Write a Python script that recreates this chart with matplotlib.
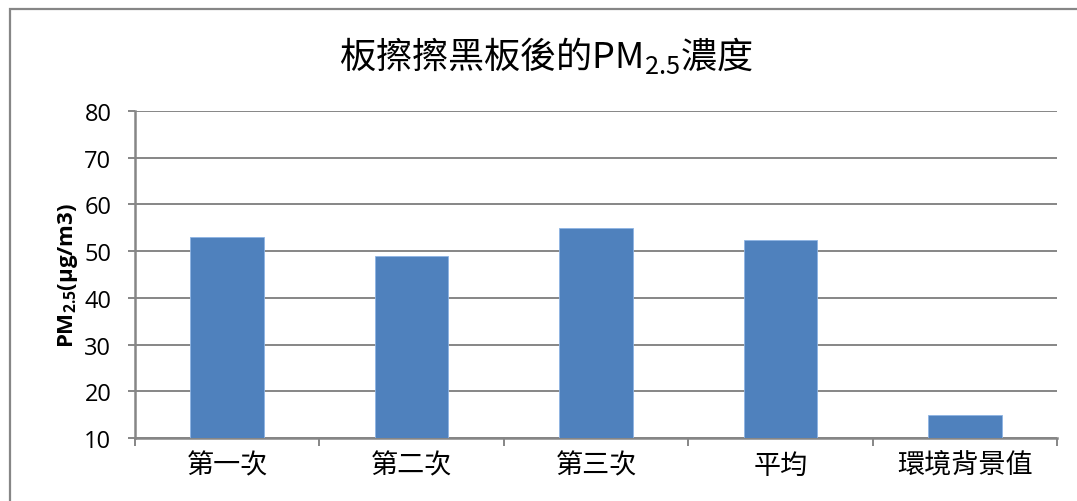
import matplotlib
matplotlib.use("Agg")
import matplotlib.pyplot as plt
from matplotlib.patches import Rectangle

categories = ["第一次", "第二次", "第三次", "平均", "環境背景值"]
values = [53, 49, 55, 52.3, 15]
yticks = [10, 20, 30, 40, 50, 60, 70, 80]

grey = "#868686"
blue = "#4F81BD"

plt.rcParams["mathtext.default"] = "regular"

fig = plt.figure(figsize=(10.77, 5.02), dpi=100)
W, H = 1077.0, 502.0

# outer chart frame (runs off the right/bottom edge like the original)
fig.patches.append(Rectangle((10 / W, -0.1), 1.2, (H - 10) / H + 0.1,
                             transform=fig.transFigure, fill=False,
                             edgecolor=grey, linewidth=1.6))

ax = fig.add_axes([135 / W, 1 - 439 / H, (1057 - 135) / W, (439 - 112) / H])

x = range(len(categories))
ax.bar(x, values, width=0.4, color=blue, edgecolor="#8EB4E3", linewidth=0.6,
       zorder=3)

ax.set_xlim(-0.5, len(categories) - 0.5)
ax.set_ylim(10, 80)
ax.set_yticks(yticks)
ax.yaxis.grid(True, color=grey, linewidth=1.4, zorder=0)
for s in ["top", "right"]:
    ax.spines[s].set_visible(False)
for s in ["left", "bottom"]:
    ax.spines[s].set_color(grey)
    ax.spines[s].set_linewidth(1.8)

ax.set_yticklabels([str(v) for v in yticks], family="Open Sans", fontsize=17)
ax.tick_params(axis="y", length=5, width=1.4, color=grey, pad=12)

ax.set_xticks(list(x))
ax.set_xticklabels(categories, family=["Noto Sans CJK TC", "DejaVu Sans"],
                   fontsize=19.5, fontweight="light")
ax.tick_params(axis="x", which="major", length=0, pad=10)
ax.set_xticks([i - 0.5 for i in range(len(categories) + 1)], minor=True)
ax.tick_params(axis="x", which="minor", length=6, width=1.4, color=grey)

ax.set_ylabel("PM$_{2.5}$(μg/m3)", family="Open Sans", fontsize=16,
              fontweight="bold", labelpad=3)

fig.text(546 / W, 1 - 55 / H, "板擦擦黑板後的PM$_{2.5}$濃度",
         family=["Noto Sans CJK TC", "DejaVu Sans"], fontsize=26,
         fontweight="light", ha="center", va="center")

fig.savefig("out.png", dpi=100)
